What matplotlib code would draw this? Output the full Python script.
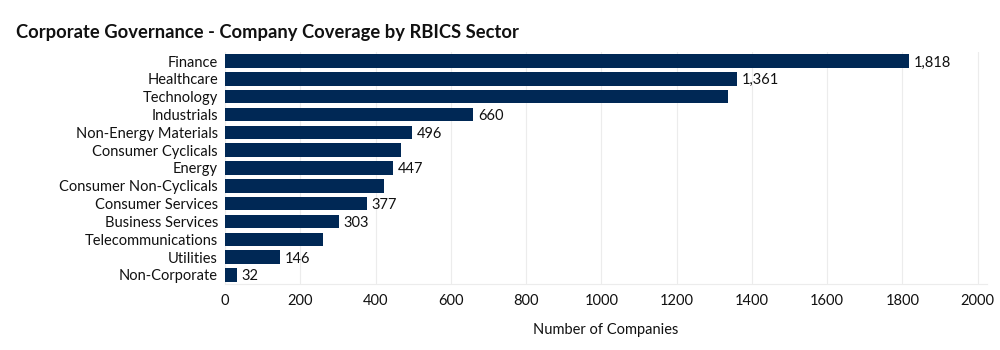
import matplotlib
matplotlib.use("Agg")
import matplotlib.pyplot as plt

categories = ["Finance", "Healthcare", "Technology", "Industrials", "Non-Energy Materials",
              "Consumer Cyclicals", "Energy", "Consumer Non-Cyclicals", "Consumer Services",
              "Business Services", "Telecommunications", "Utilities", "Non-Corporate"]
values = [1818, 1361, 1336, 660, 496, 468, 447, 422, 377, 303, 260, 146, 32]
show_label = [True, True, False, True, True, False, True, False, True, True, False, True, True]
xticks = [0, 200, 400, 600, 800, 1000, 1200, 1400, 1600, 1800, 2000]

plt.rcParams['font.family'] = ['Lato', 'DejaVu Sans']

fig = plt.figure(figsize=(10, 3.5), dpi=100)
ax = fig.add_axes([0.225, 0.189, 0.762, 0.662])

y = list(range(len(categories)))
ax.barh(y, values, height=0.76, color="#002855", zorder=3)
for yi, v, s in zip(y, values, show_label):
    if s:
        ax.annotate(f"{v:,}", (v, yi), xytext=(3.5, -1), textcoords="offset points",
                    ha="left", va="center", fontsize=10.5, color="#111111")

ax.set_ylim(len(categories) - 0.5, -0.5)
ax.set_xlim(0, 2025)
ax.set_yticks(y)
ax.set_yticklabels(categories, fontsize=10.5, color="#111111")
ax.set_xticks(xticks)
ax.set_xticklabels([str(t) for t in xticks], fontsize=10.5, color="#111111")
ax.tick_params(axis="both", length=0, pad=5)
ax.tick_params(axis="x", pad=7)
ax.grid(axis="x", color="#ececec", linewidth=0.8, zorder=0)
for sp in ["top", "right", "left"]:
    ax.spines[sp].set_visible(False)
ax.spines["bottom"].set_color("#ececec")
ax.spines["bottom"].set_linewidth(0.8)
ax.set_xlabel("Number of Companies", fontsize=10.5, color="#111111", labelpad=11)

fig.text(0.016, 0.908, "Corporate Governance - Company Coverage by RBICS Sector",
         fontsize=13.2, fontweight="bold", color="#111111", ha="left", va="center")

fig.savefig("out.png", dpi=100)
